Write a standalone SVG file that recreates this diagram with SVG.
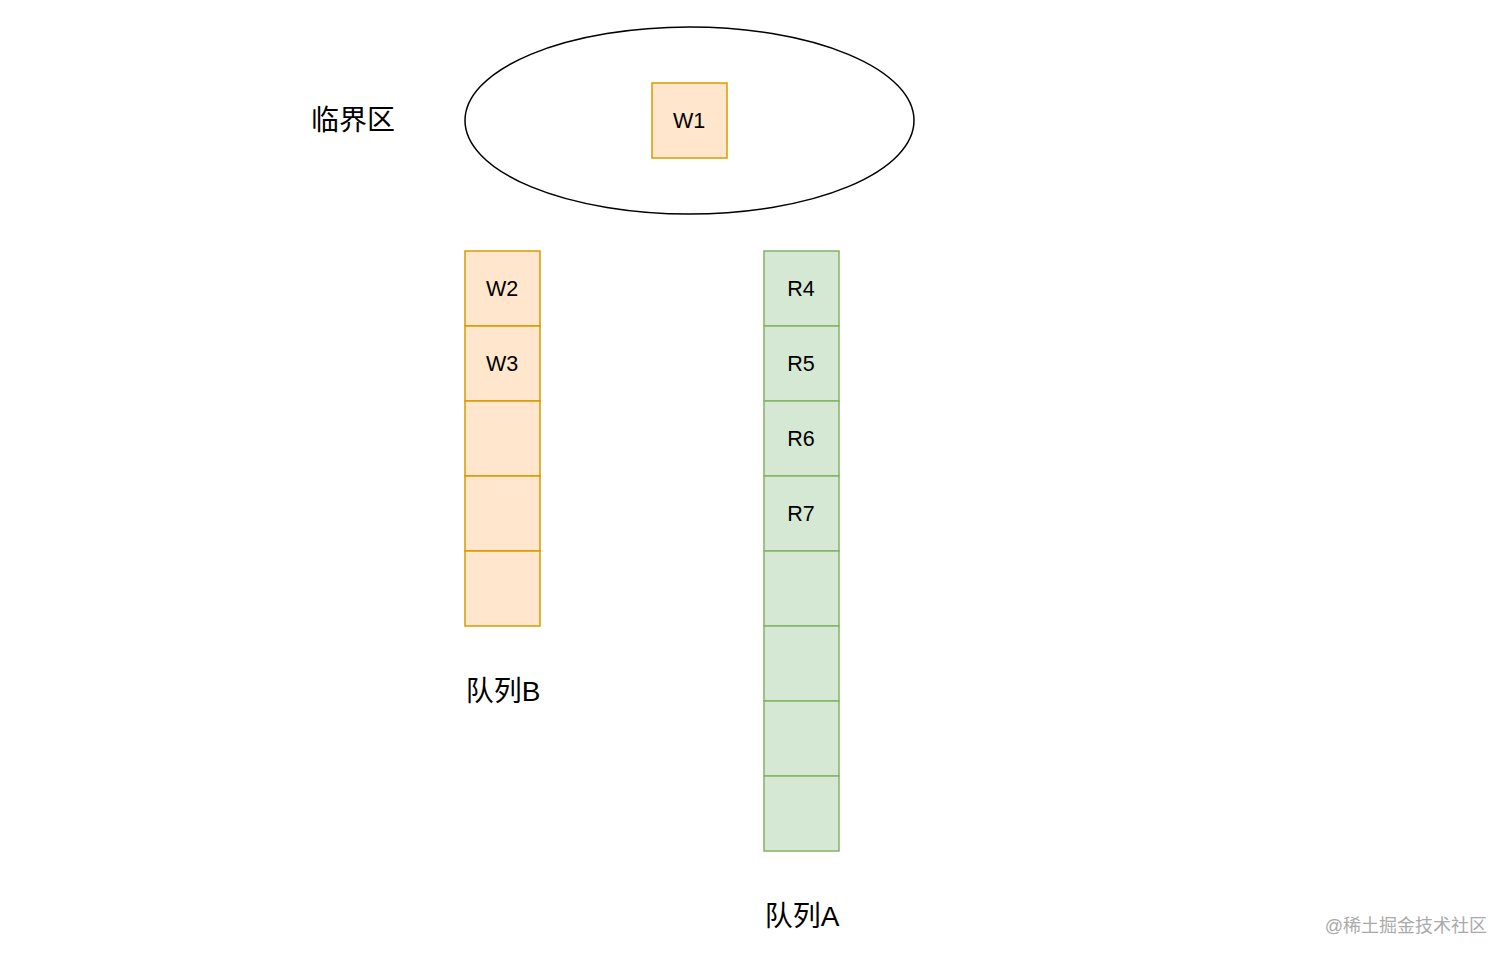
<svg xmlns="http://www.w3.org/2000/svg" width="1512" height="962" viewBox="0 0 1512 962">
<style>
.o{fill:#ffe6cc;stroke:#d79b00;stroke-width:1.5}
.g{fill:#d5e8d4;stroke:#82b366;stroke-width:1.5}
.t{font-family:"Liberation Sans","Noto Sans CJK SC",sans-serif;font-size:21.5px;fill:#000;text-anchor:middle;dominant-baseline:central}
.l{font-family:"Liberation Sans","Noto Sans CJK SC",sans-serif;font-size:28px;fill:#000;text-anchor:middle;dominant-baseline:central}
.w{font-family:"Liberation Sans","Noto Sans CJK SC",sans-serif;font-size:18px;fill:#aaaaaa;text-anchor:end;dominant-baseline:central}
</style>
<rect width="1512" height="962" fill="#ffffff"/>
<g id="critical">
<ellipse cx="689.5" cy="120.5" rx="224.5" ry="93.5" fill="#ffffff" stroke="#000" stroke-width="1.5"/>
</g>
<g id="label-critical"><text class="l" x="353" y="120">临界区</text></g>
<g id="W1"><rect class="o" x="652" y="83" width="75" height="75"/><text class="t" x="689" y="120.5">W1</text></g>
<g id="queueB">
<g id="W2"><rect class="o" x="465" y="251" width="75" height="75"/><text class="t" x="502" y="288.5">W2</text></g>
<g id="W3"><rect class="o" x="465" y="326" width="75" height="75"/><text class="t" x="502" y="363.5">W3</text></g>
<g id="B3"><rect class="o" x="465" y="401" width="75" height="75"/></g>
<g id="B4"><rect class="o" x="465" y="476" width="75" height="75"/></g>
<g id="B5"><rect class="o" x="465" y="551" width="75" height="75"/></g>
</g>
<g id="label-B"><text class="l" x="503" y="691">队列B</text></g>
<g id="queueA">
<g id="R4"><rect class="g" x="764" y="251" width="75" height="75"/><text class="t" x="801" y="288.5">R4</text></g>
<g id="R5"><rect class="g" x="764" y="326" width="75" height="75"/><text class="t" x="801" y="363.5">R5</text></g>
<g id="R6"><rect class="g" x="764" y="401" width="75" height="75"/><text class="t" x="801" y="438.5">R6</text></g>
<g id="R7"><rect class="g" x="764" y="476" width="75" height="75"/><text class="t" x="801" y="513.5">R7</text></g>
<g id="A5"><rect class="g" x="764" y="551" width="75" height="75"/></g>
<g id="A6"><rect class="g" x="764" y="626" width="75" height="75"/></g>
<g id="A7"><rect class="g" x="764" y="701" width="75" height="75"/></g>
<g id="A8"><rect class="g" x="764" y="776" width="75" height="75"/></g>
</g>
<g id="label-A"><text class="l" x="802" y="916">队列A</text></g>
<g id="connectors"></g>
<text class="w" x="1487" y="926">@稀土掘金技术社区</text>
</svg>
